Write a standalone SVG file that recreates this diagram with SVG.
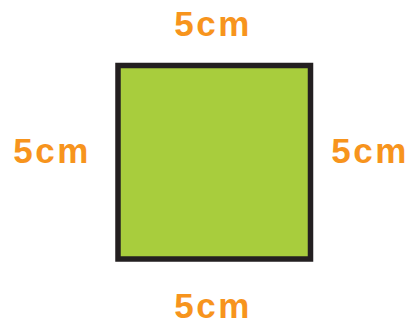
<svg xmlns="http://www.w3.org/2000/svg" width="412" height="326" viewBox="0 0 412 326">
<style>
.lbl{font-family:"Liberation Sans",Arial,sans-serif;font-weight:bold;font-size:35px;fill:#f7941d;text-anchor:middle;letter-spacing:2.5px}
</style>
<rect width="412" height="326" fill="#ffffff"/>
<g id="square">
<rect x="118" y="65.5" width="192.5" height="193.5" fill="#a8cd3d" stroke="#231f20" stroke-width="5.5"/>
</g>
<g id="label-top"><text class="lbl" x="213" y="36">5cm</text></g>
<g id="label-left"><text class="lbl" x="52" y="163">5cm</text></g>
<g id="label-right"><text class="lbl" x="370" y="163">5cm</text></g>
<g id="label-bottom"><text class="lbl" x="213" y="318">5cm</text></g>
</svg>
